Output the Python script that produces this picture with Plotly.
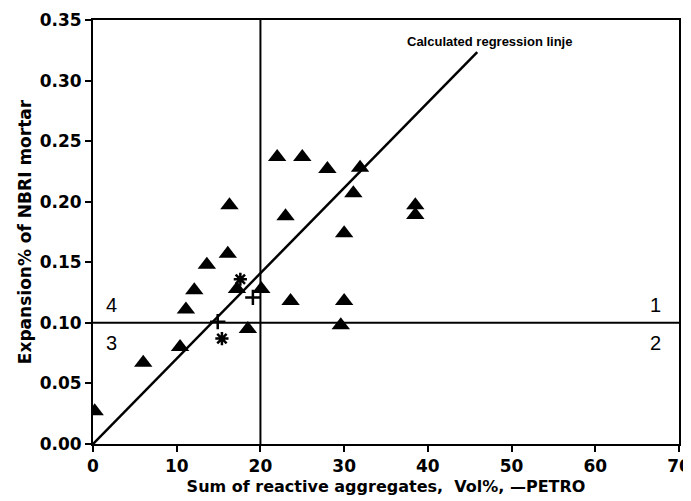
import plotly.graph_objects as go

# ---- data ----
tri_x = [0.2, 6.0, 10.4, 11.1, 12.1, 13.6, 16.1, 16.3, 17.2, 18.5, 20.1, 22.0, 23.0,
         23.6, 25.0, 28.0, 29.6, 30.0, 30.0, 31.1, 31.9, 38.5, 38.5]
tri_y = [0.027, 0.067, 0.080, 0.111, 0.127, 0.148, 0.157, 0.197, 0.128, 0.095, 0.128,
         0.237, 0.188, 0.118, 0.237, 0.227, 0.098, 0.174, 0.118, 0.207, 0.228, 0.197, 0.189]
star_x = [15.4, 17.6]
star_y = [0.087, 0.136]
plus_x = [14.9, 19.1]
plus_y = [0.101, 0.121]
reg_x = [0.0, 45.9]
reg_y = [0.0, 0.3235]
limit_x = 20
limit_y = 0.10
quad_labels = ["1", "2", "3", "4"]
quad_x = [67.2, 67.2, 2.2, 2.2]
quad_y = [0.115, 0.083, 0.083, 0.115]
x_ticks = [0, 10, 20, 30, 40, 50, 60, 70]
y_ticks = [0.00, 0.05, 0.10, 0.15, 0.20, 0.25, 0.30, 0.35]

fig = go.Figure()

# quadrant divider lines
fig.add_trace(go.Scatter(x=[0, 70], y=[limit_y, limit_y], mode="lines",
                         line=dict(color="black", width=2), showlegend=False, hoverinfo="skip"))
fig.add_trace(go.Scatter(x=[limit_x, limit_x], y=[0, 0.35], mode="lines",
                         line=dict(color="black", width=2), showlegend=False, hoverinfo="skip"))
# regression line
fig.add_trace(go.Scatter(x=reg_x, y=reg_y, mode="lines",
                         line=dict(color="black", width=2.5), showlegend=False))
# data points
fig.add_trace(go.Scatter(x=tri_x, y=tri_y, mode="markers",
                         marker=dict(symbol="triangle-up", size=16, color="black"),
                         showlegend=False))
fig.add_trace(go.Scatter(x=star_x, y=star_y, mode="markers",
                         marker=dict(symbol="asterisk-open", size=11, color="black",
                                     line=dict(color="black", width=2.5)),
                         showlegend=False))
fig.add_trace(go.Scatter(x=plus_x, y=plus_y, mode="markers",
                         marker=dict(symbol="cross-thin-open", size=11, color="black",
                                     line=dict(color="black", width=2.5)),
                         showlegend=False))

# quadrant numbers
for t, x, y in zip(quad_labels, quad_x, quad_y):
    fig.add_annotation(x=x, y=y, text=t, showarrow=False,
                       font=dict(family="Liberation Sans", size=20, color="black"))

fig.add_annotation(x=37.3, y=0.332, text="Calculated regression linje", showarrow=False,
                   xanchor="left", yanchor="middle",
                   font=dict(family="Liberation Sans", size=13, color="black", weight="bold"))

axis_common = dict(showline=True, linecolor="black", linewidth=2, mirror=True,
                   ticks="outside", ticklen=6, tickwidth=2, tickcolor="black",
                   showgrid=False, zeroline=False, automargin=False,
                   tickfont=dict(family="DejaVu Sans", size=17, color="black", weight="bold"))

fig.update_xaxes(range=[0, 70], tickvals=x_ticks, ticktext=[str(v) for v in x_ticks],
                 title=dict(text="Sum of reactive aggregates,  Vol%, \u2014PETRO",
                            font=dict(family="DejaVu Sans", size=16, color="black", weight="bold"),
                            standoff=5),
                 **axis_common)
fig.update_yaxes(range=[0, 0.35], tickvals=y_ticks, ticktext=[f"{v:.2f}" for v in y_ticks],
                 title=dict(text="Expansion% of NBRI mortar",
                            font=dict(family="DejaVu Sans", size=17, color="black", weight="bold"),
                            standoff=4),
                 **axis_common)

# the page body adds an 8px offset, so the figure is sized to compensate
fig.update_layout(width=683, height=493,
                  margin=dict(l=85, r=12, t=12, b=57, autoexpand=False),
                  plot_bgcolor="white", paper_bgcolor="white")

fig.write_html("out.html")
